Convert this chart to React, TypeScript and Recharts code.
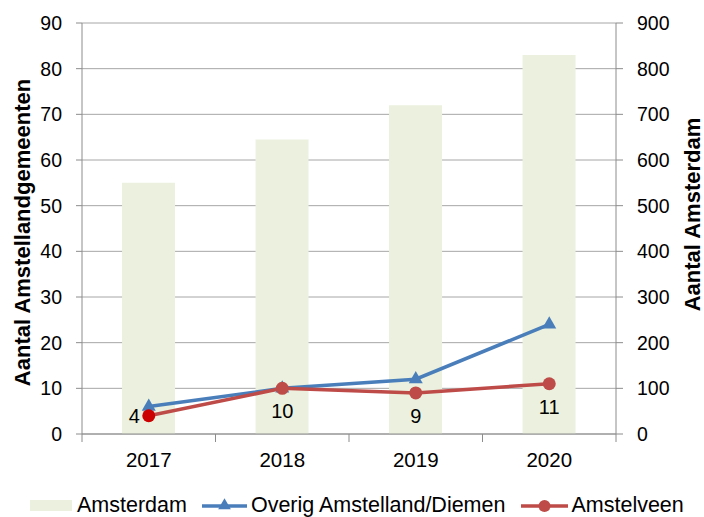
import React from "react";
import {
  ComposedChart,
  Bar,
  Line,
  XAxis,
  YAxis,
  CartesianGrid,
  Legend,
  LabelList,
  Symbols,
} from "recharts";

document.body.style.margin = "0";

const YEARS = ["2017", "2018", "2019", "2020"];
const AMSTERDAM = [550, 645, 720, 830];
const OVERIG = [6, 10, 12, 24];
const AMSTELVEEN = [4, 10, 9, 11];
const LEFT_TICKS = [0, 10, 20, 30, 40, 50, 60, 70, 80, 90];
const RIGHT_TICKS = [0, 100, 200, 300, 400, 500, 600, 700, 800, 900];

const data = YEARS.map((year, i) => ({
  year,
  amsterdam: AMSTERDAM[i],
  overig: OVERIG[i],
  amstelveen: AMSTELVEEN[i],
}));

const GREEN = "#ebf1de";
const BLUE = "#4a7ebb";
const RED = "#be4b48";
const GRID = "#a6a6a6";
const AXIS = "#8c8c8c";
const FONT = "'Liberation Sans', Arial, sans-serif";

const CHART_W = 704;
const CHART_H = 517;
const LEFT_AXIS_W = 82;
const RIGHT_AXIS_W = 88;
const X_TICK_SIZE = 8;
const X_TICK_MARGIN = 10;

const TriangleDot = (props: any) => {
  const { cx, cy } = props;
  if (cx == null || cy == null) return null;
  return <Symbols cx={cx} cy={cy} type="triangle" size={85} fill={BLUE} />;
};

const CircleDot = (props: any) => {
  const { cx, cy, index } = props;
  if (cx == null || cy == null) return null;
  // first point is drawn in a brighter red in the original
  return <circle cx={cx} cy={cy} r={6.5} fill={index === 0 ? "#cc0000" : RED} />;
};

const AmstelveenLabel = (props: any) => {
  const { x, y, value, index } = props;
  if (index === 0) {
    return (
      <text x={x - 9} y={y} dy="0.355em" textAnchor="end" fontSize={20} fill="#000" fontFamily={FONT}>
        {value}
      </text>
    );
  }
  return (
    <text x={x} y={y + 23} dy="0.355em" textAnchor="middle" fontSize={20} fill="#000" fontFamily={FONT}>
      {value}
    </text>
  );
};

// category label plus Excel-style tick marks between the categories
const YearTick = (props: any) => {
  const { x, y, payload, index, visibleTicksCount } = props;
  const count = visibleTicksCount || YEARS.length;
  const plotW = typeof props.width === "number" ? props.width : CHART_W - LEFT_AXIS_W - RIGHT_AXIS_W;
  const half = plotW / count / 2;
  const y0 = y - X_TICK_SIZE - X_TICK_MARGIN;
  return (
    <g>
      <line x1={x - half} y1={y0} x2={x - half} y2={y0 + X_TICK_SIZE} stroke={AXIS} />
      {index === count - 1 && (
        <line x1={x + half} y1={y0} x2={x + half} y2={y0 + X_TICK_SIZE} stroke={AXIS} />
      )}
      <text x={x} y={y} dy="0.71em" textAnchor="middle" fontSize={20.5} fill="#000" fontFamily={FONT}>
        {payload.value}
      </text>
    </g>
  );
};

const LeftTitle = (props: any) => {
  const { viewBox } = props;
  const cx = viewBox.x + 22;
  const cy = viewBox.y + viewBox.height / 2 + 4;
  return (
    <text
      x={cx}
      y={cy}
      transform={`rotate(-90 ${cx} ${cy})`}
      textAnchor="middle"
      dy="0.355em"
      fontSize={22}
      fontWeight="bold"
      fill="#000"
      fontFamily={FONT}
    >
      Aantal Amstellandgemeenten
    </text>
  );
};

const RightTitle = (props: any) => {
  const { viewBox } = props;
  const cx = viewBox.x + 76;
  const cy = viewBox.y + viewBox.height / 2 - 14;
  return (
    <text
      x={cx}
      y={cy}
      transform={`rotate(-90 ${cx} ${cy})`}
      textAnchor="middle"
      dy="0.355em"
      fontSize={22}
      fontWeight="bold"
      fill="#000"
      fontFamily={FONT}
    >
      Aantal Amsterdam
    </text>
  );
};

const renderLegend = () => (
  <div
    style={{
      boxSizing: "border-box",
      height: 43,
      paddingTop: 19,
      paddingLeft: 30,
      display: "flex",
      alignItems: "center",
      fontSize: 21.5,
      lineHeight: "25px",
      fontFamily: FONT,
      color: "#000",
      whiteSpace: "nowrap",
    }}
  >
    <svg width={42} height={25} style={{ display: "block" }}>
      <rect x={0} y={7} width={42} height={11} fill={GREEN} />
    </svg>
    <span style={{ marginLeft: 5 }}>Amsterdam</span>
    <svg width={45} height={25} style={{ display: "block", marginLeft: 15 }}>
      <line x1={0} y1={13} x2={45} y2={13} stroke={BLUE} strokeWidth={3.5} />
      <Symbols cx={22.5} cy={12.5} type="triangle" size={70} fill={BLUE} />
    </svg>
    <span style={{ marginLeft: 4 }}>Overig Amstelland/Diemen</span>
    <svg width={47} height={25} style={{ display: "block", marginLeft: 16 }}>
      <line x1={0} y1={13} x2={47} y2={13} stroke={RED} strokeWidth={3.5} />
      <circle cx={23.5} cy={13} r={6} fill={RED} />
    </svg>
    <span style={{ marginLeft: 3 }}>Amstelveen</span>
  </div>
);

export default function App() {
  return (
    <div style={{ width: CHART_W, height: CHART_H, background: "#fff", fontFamily: FONT }}>
      <ComposedChart
        width={CHART_W}
        height={CHART_H}
        data={data}
        margin={{ top: 23, right: 0, bottom: 0, left: 0 }}
        barCategoryGap="30%"
      >
        <CartesianGrid vertical={false} yAxisId="left" stroke={GRID} />
        <XAxis
          dataKey="year"
          height={40}
          stroke={AXIS}
          tickLine={false}
          tickSize={X_TICK_SIZE}
          tickMargin={X_TICK_MARGIN}
          interval={0}
          tick={<YearTick />}
        />
        <YAxis
          yAxisId="left"
          orientation="left"
          width={LEFT_AXIS_W}
          domain={[0, 90]}
          ticks={LEFT_TICKS}
          interval={0}
          stroke={AXIS}
          tickSize={6}
          tickMargin={14}
          tick={{ fill: "#000", fontSize: 19.5, fontFamily: FONT }}
          label={<LeftTitle />}
        />
        <YAxis
          yAxisId="right"
          orientation="right"
          width={RIGHT_AXIS_W}
          domain={[0, 900]}
          ticks={RIGHT_TICKS}
          interval={0}
          stroke={AXIS}
          tickSize={7}
          tickMargin={14}
          tick={{ fill: "#000", fontSize: 19.5, fontFamily: FONT }}
          label={<RightTitle />}
        />
        <Bar
          yAxisId="right"
          dataKey="amsterdam"
          name="Amsterdam"
          fill={GREEN}
          isAnimationActive={false}
        />
        <Line
          yAxisId="left"
          dataKey="overig"
          name="Overig Amstelland/Diemen"
          stroke={BLUE}
          strokeWidth={3.5}
          dot={<TriangleDot />}
          activeDot={false}
          isAnimationActive={false}
        />
        <Line
          yAxisId="left"
          dataKey="amstelveen"
          name="Amstelveen"
          stroke={RED}
          strokeWidth={3.5}
          dot={<CircleDot />}
          activeDot={false}
          isAnimationActive={false}
        >
          <LabelList dataKey="amstelveen" content={<AmstelveenLabel />} />
        </Line>
        <Legend
          verticalAlign="bottom"
          content={renderLegend}
          wrapperStyle={{ left: 0, bottom: 0, width: CHART_W, height: 43 }}
        />
      </ComposedChart>
    </div>
  );
}
